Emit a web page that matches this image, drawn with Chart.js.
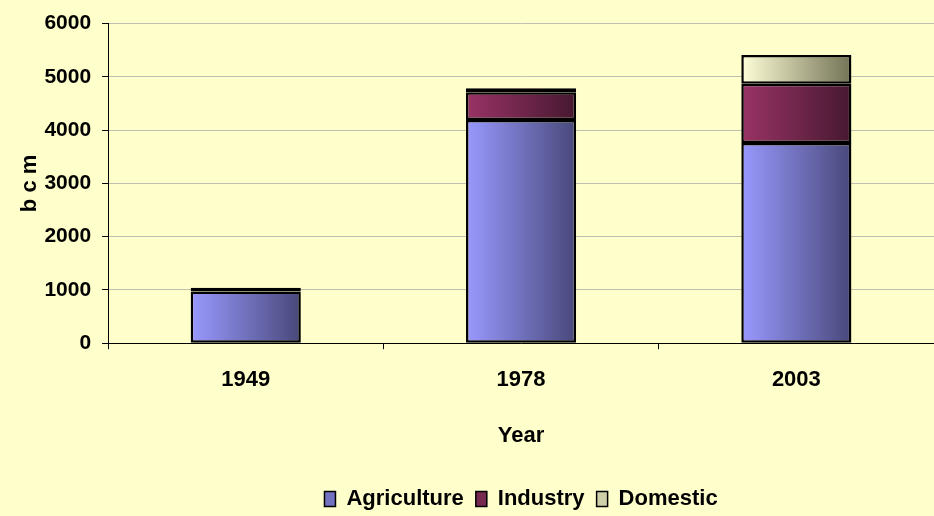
<!DOCTYPE html>
<html>
<head>
<meta charset="utf-8">
<script src="https://cdn.jsdelivr.net/npm/chart.js@4/dist/chart.umd.min.js"></script>
<style>
  html, body { margin: 0; padding: 0; background: #FFFFCC; }
  #wrap { width: 934px; height: 516px; }
</style>
</head>
<body>
<div id="wrap"><canvas id="waterChart"></canvas></div>
<script>
// Water use by sector, billion cubic metres
const years = ['1949', '1978', '2003'];
const agriculture = [970, 4190, 3760];
const industry = [70, 520, 1110];
const domestic = [0, 75, 540];
const yTicks = [0, 1000, 2000, 3000, 4000, 5000, 6000];

const FONT = '"Liberation Sans", Arial, sans-serif';
const BAR_PCT = 0.4;

// horizontal gradient across each bar, light on the left, dark on the right
function barGradient(light, dark) {
    return function(context) {
        const chart = context.chart;
        const x = chart.scales.x;
        if (!x || !chart.chartArea) return light;
        const center = x.getPixelForValue(context.dataIndex);
        const half = (chart.chartArea.width / years.length) * BAR_PCT / 2;
        const g = chart.ctx.createLinearGradient(center - half, 0, center + half, 0);
        g.addColorStop(0, light);
        g.addColorStop(0.5, blend(light, dark));
        g.addColorStop(1, dark);
        return g;
    };
}

function blend(a, b) {
    const pa = [1, 3, 5].map(i => parseInt(a.substr(i, 2), 16));
    const pb = [1, 3, 5].map(i => parseInt(b.substr(i, 2), 16));
    return 'rgb(' + pa.map((v, i) => Math.round((v + pb[i]) / 2)).join(',') + ')';
}

const ctx = document.getElementById('waterChart').getContext('2d');
const waterChart = new Chart(ctx, {
    type: 'bar',
    data: {
        labels: years,
        datasets: [
            { label: 'Agriculture', data: agriculture, backgroundColor: barGradient('#9999FF', '#48487A'), legendColor: '#7272C0' },
            { label: 'Industry', data: industry, backgroundColor: barGradient('#993366', '#461830'), legendColor: '#77284F' },
            { label: 'Domestic', data: domestic, backgroundColor: barGradient('#FFFFD8', '#727256'), legendColor: '#CFCFA8' }
        ]
    },
    options: {
        responsive: true,
        maintainAspectRatio: false,
        animation: false,
        layout: { padding: { left: 17, right: 0, top: 6, bottom: -4 } },
        datasets: {
            bar: {
                barPercentage: BAR_PCT,
                categoryPercentage: 1,
                borderColor: '#000000',
                borderWidth: 2.5,
                borderSkipped: false
            }
        },
        scales: {
            x: {
                stacked: true,
                border: { color: '#000000', width: 1 },
                grid: { drawOnChartArea: false, drawTicks: true, tickLength: 6, color: '#000000' },
                ticks: { color: '#000000', font: { family: FONT, size: 22, weight: 'bold' }, padding: 18 },
                title: { display: true, text: 'Year', color: '#000000', font: { family: FONT, size: 22, weight: 'bold' }, padding: { top: 11, bottom: 27 } }
            },
            y: {
                stacked: true,
                min: 0,
                max: 6000,
                afterBuildTicks: function(axis) { axis.ticks = yTicks.map(v => ({ value: v })); },
                border: { color: '#000000', width: 1 },
                grid: { color: '#C0C0B0', tickColor: '#000000', tickLength: 6 },
                ticks: {
                    color: '#000000',
                    font: { family: FONT, size: 21, weight: 'bold' },
                    padding: 11,
                    callback: function(value) { return String(value); }
                },
                title: { display: true, text: 'b c m', color: '#000000', font: { family: FONT, size: 22, weight: 'bold' }, padding: { top: 0, bottom: -10 } }
            }
        },
        plugins: {
            legend: {
                position: 'bottom',
                fullSize: false,
                labels: {
                    color: '#000000',
                    font: { family: FONT, size: 22, weight: 'bold' },
                    boxWidth: 11,
                    boxHeight: 15,
                    padding: 12,
                    generateLabels: function(chart) {
                        return chart.data.datasets.map((ds, i) => ({
                            text: ds.label,
                            fillStyle: ds.legendColor,
                            strokeStyle: '#000000',
                            lineWidth: 1.5,
                            datasetIndex: i
                        }));
                    }
                }
            },
            tooltip: { enabled: false }
        }
    }
});
</script>
</body>
</html>
